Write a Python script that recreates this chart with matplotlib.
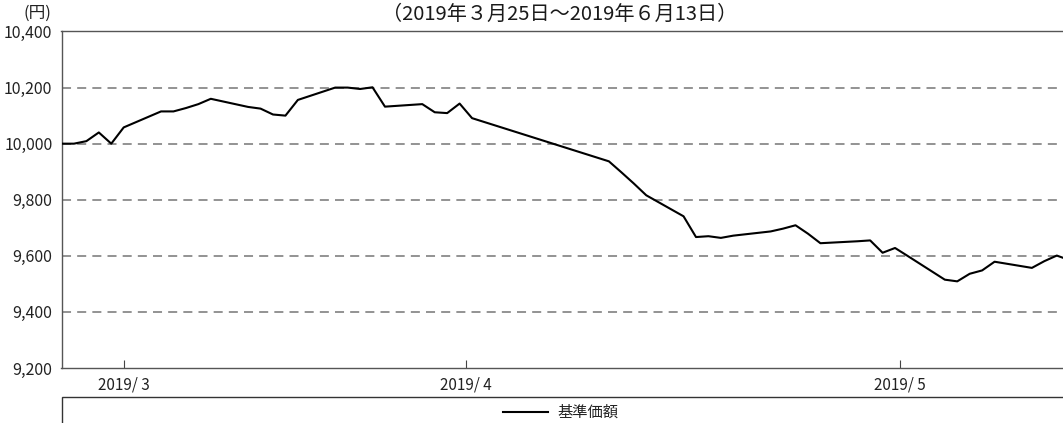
#!/usr/bin/env python3
"""基準価額の推移チャート (2019/3/25 - 2019/6/13)."""
import matplotlib
matplotlib.use('Agg')
import matplotlib.pyplot as plt
import pandas as pd
from matplotlib.patches import Rectangle
from matplotlib.lines import Line2D

plt.rcParams['font.family'] = ['Noto Sans CJK JP', 'DejaVu Sans']

# data
dates = [
    '2019-03-24', '2019-03-25', '2019-03-26', '2019-03-27', '2019-03-28', '2019-03-29',
    '2019-04-01', '2019-04-02', '2019-04-03', '2019-04-04', '2019-04-05',
    '2019-04-08', '2019-04-09', '2019-04-10', '2019-04-11', '2019-04-12',
    '2019-04-15', '2019-04-16', '2019-04-17', '2019-04-18', '2019-04-19',
    '2019-04-22', '2019-04-23', '2019-04-24', '2019-04-25', '2019-04-26',
    '2019-05-07', '2019-05-08', '2019-05-09', '2019-05-10',
    '2019-05-13', '2019-05-14', '2019-05-15', '2019-05-16', '2019-05-17',
    '2019-05-20', '2019-05-21', '2019-05-22', '2019-05-23', '2019-05-24',
    '2019-05-27', '2019-05-28', '2019-05-29', '2019-05-30', '2019-05-31',
    '2019-06-03', '2019-06-04', '2019-06-05', '2019-06-06', '2019-06-07',
    '2019-06-10', '2019-06-11', '2019-06-12', '2019-06-13',
]
nav = [
    10000, 10000, 10009, 10040, 10000, 10058,
    10115, 10115, 10127, 10141, 10160,
    10131, 10125, 10104, 10100, 10156,
    10200, 10200, 10195, 10201, 10132,
    10141, 10112, 10109, 10143, 10091,
    9937, 9898, 9858, 9816,
    9741, 9667, 9670, 9664, 9672,
    9687, 9697, 9709, 9679, 9645,
    9652, 9655, 9611, 9628, 9600,
    9515, 9509, 9536, 9548, 9579,
    9557, 9581, 9601, 9585,
]
tick_dates = ['2019-03-29 00:00', '2019-04-25 12:00', '2019-05-30 10:00']
tick_labels = ['2019/ 3', '2019/ 4', '2019/ 5']
y_ticks = [9200, 9400, 9600, 9800, 10000, 10200, 10400]

W, H = 1063, 423
fig = plt.figure(figsize=(W / 100, H / 100), dpi=100)
ax = fig.add_axes([61.5 / W, (H - 368) / H, (W - 61.5) / W, (368 - 31.5) / H])

x = pd.to_datetime(dates)
ax.plot(x, nav, color='black', linewidth=1.5, zorder=3)

# dashed guide lines (not at the frame edges)
for v in y_ticks[1:-1]:
    ax.axhline(v, color='#8a8a8a', linewidth=1.3, linestyle=(0, (5, 3.4)), zorder=1)

ax.set_xlim(pd.Timestamp('2019-03-24'), pd.Timestamp('2019-06-12 12:00'))
ax.set_ylim(9200, 10400)
ax.set_yticks(y_ticks)
ax.set_yticklabels([f'{v:,}' for v in y_ticks])
ax.set_xticks(pd.to_datetime(tick_dates, format='%Y-%m-%d %H:%M'))
ax.set_xticklabels(tick_labels)
ax.tick_params(axis='y', length=0, pad=6.5, labelsize=11.5, colors='#222')
ax.tick_params(axis='x', direction='in', length=6, width=0.8, pad=6,
               labelsize=11, colors='#444', labelcolor='#222')

for side in ('left', 'bottom', 'top'):
    ax.spines[side].set_color('#555')
    ax.spines[side].set_linewidth(1.0)
ax.spines['right'].set_visible(False)

fig.text(560 / W, 1 - 14 / H, '（2019年３月25日～2019年６月13日）',
         ha='center', va='center', fontsize=14.5, color='#1a1a1a')
fig.text(37 / W, 1 - 13.5 / H, '(円)', ha='center', va='center',
         fontsize=12, color='#222')

# legend box, cut by the figure edge like the original
fig.add_artist(Rectangle((61.5 / W, -0.1), 1.2, (H - 397) / H + 0.1,
                         transform=fig.transFigure, fill=False,
                         edgecolor='#333', linewidth=1.0))
ly = 1 - 412 / H
fig.add_artist(Line2D([503 / W, 548 / W], [ly, ly], transform=fig.transFigure,
                      color='black', linewidth=1.5))
fig.text(557 / W, ly, '基準価額', ha='left', va='center', fontsize=11, color='#222')

fig.savefig('out.png', dpi=100)
plt.close(fig)
